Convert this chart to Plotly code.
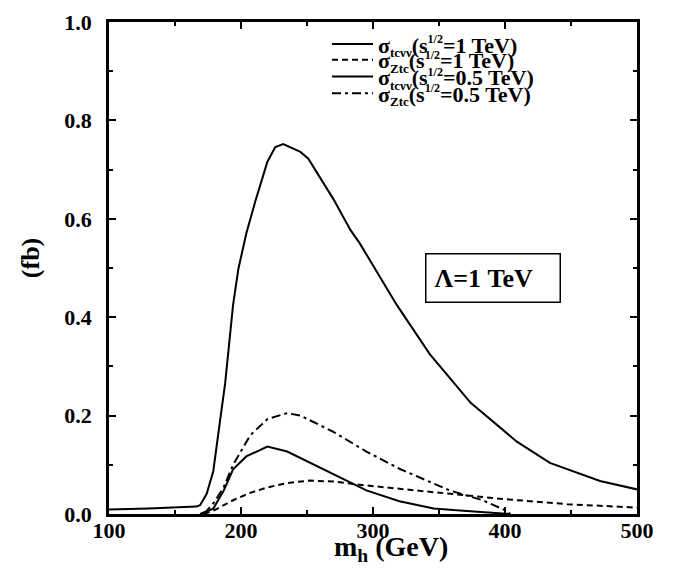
import plotly.graph_objects as go

# sigma_tcvv, sqrt(s)=1 TeV
mh_a = [100, 130, 166, 169, 174, 179, 184, 188, 194, 198, 204, 211, 220, 226, 232, 245, 251, 270, 283, 290, 318, 343, 374, 409, 434, 472, 500]
sig_a = [0.009, 0.011, 0.015, 0.018, 0.041, 0.087, 0.187, 0.266, 0.425, 0.498, 0.570, 0.637, 0.716, 0.746, 0.752, 0.736, 0.722, 0.640, 0.577, 0.550, 0.425, 0.325, 0.226, 0.147, 0.104, 0.067, 0.050]

# sigma_Ztc, sqrt(s)=1 TeV
mh_b = [172, 180, 194, 207, 220, 235, 252, 270, 295, 320, 358, 396, 447, 500]
sig_b = [0.0, 0.008, 0.028, 0.043, 0.054, 0.063, 0.068, 0.066, 0.058, 0.051, 0.041, 0.031, 0.020, 0.013]

# sigma_tcvv, sqrt(s)=0.5 TeV
mh_c = [169, 179, 187, 194, 204, 220, 235, 245, 270, 295, 320, 346, 371, 390, 404]
sig_c = [0.0, 0.011, 0.048, 0.091, 0.117, 0.137, 0.127, 0.114, 0.081, 0.048, 0.026, 0.011, 0.006, 0.002, 0.0]

# sigma_Ztc, sqrt(s)=0.5 TeV
mh_d = [172, 180, 187, 194, 207, 220, 235, 245, 270, 295, 320, 346, 358, 383, 400, 404]
sig_d = [0.0, 0.025, 0.055, 0.10, 0.160, 0.193, 0.205, 0.200, 0.167, 0.127, 0.092, 0.061, 0.048, 0.028, 0.008, 0.0]

x_ticks = [100, 200, 300, 400, 500]
x_tick_text = ["100", "200", "300", "400", "500"]
y_ticks = [0.0, 0.2, 0.4, 0.6, 0.8, 1.0]
y_tick_text = ["0.0", "0.2", "0.4", "0.6", "0.8", "1.0"]

SUB = '<sub><span style="font-size:13px">%s</span></sub>'
SUP = '<sup><span style="font-size:12px">%s</span></sup>'
names = [
    "<b>σ" + SUB % "tcνν" + "(s" + SUP % "1/2" + "=1 TeV)</b>",
    "<b>σ" + SUB % "Ztc" + "(s" + SUP % "1/2" + "=1 TeV)</b>",
    "<b>σ" + SUB % "tcνν" + "(s" + SUP % "1/2" + "=0.5 TeV)</b>",
    "<b>σ" + SUB % "Ztc" + "(s" + SUP % "1/2" + "=0.5 TeV)</b>",
]
dashes = ["solid", "6px,4px", "solid", "9px,4px,3px,4px"]
legend_ids = ["legend", "legend2", "legend3", "legend4"]
legend_rows = [0.955, 0.923, 0.889, 0.855]

FONT = "Liberation Serif, Times New Roman, serif"
fig = go.Figure()
for x, y, n, d, lg in zip([mh_a, mh_b, mh_c, mh_d], [sig_a, sig_b, sig_c, sig_d], names, dashes, legend_ids):
    fig.add_trace(go.Scatter(x=x, y=y, mode="lines", name=n, legend=lg,
                             line=dict(color="black", width=2, dash=d)))

axis_common = dict(showline=True, linecolor="black", linewidth=2.5, mirror="ticks",
                   ticks="inside", ticklen=7, tickwidth=2, tickcolor="black",
                   showgrid=False, zeroline=False,
                   tickfont=dict(family=FONT, size=22, color="black"))

fig.update_xaxes(range=[100, 500], tickmode="array", tickvals=x_ticks,
                 ticktext=["<b>%s</b>" % t for t in x_tick_text], ticklabelstandoff=-5,
                 minor=dict(ticks="inside", dtick=50, tick0=100, ticklen=4, tickcolor="black", tickwidth=1.5),
                 **axis_common)
fig.update_yaxes(range=[0, 1.0], tickmode="array", tickvals=y_ticks,
                 ticktext=["<b>%s</b>" % t for t in y_tick_text], ticklabelstandoff=10,
                 minor=dict(ticks="inside", dtick=0.1, tick0=0, ticklen=4, tickcolor="black", tickwidth=1.5),
                 **axis_common)

# axis titles
fig.add_annotation(x=0.534, y=-0.0694, xref="paper", yref="paper", text="<b>m<sub>h</sub> (GeV)</b>",
                   showarrow=False, xanchor="center", yanchor="middle",
                   font=dict(family=FONT, size=28, color="black"))
fig.add_annotation(x=-0.1496, y=0.52, xref="paper", yref="paper", text="<b>(fb)</b>",
                   showarrow=False, xanchor="center", yanchor="middle", textangle=-90,
                   font=dict(family=FONT, size=26, color="black"))

fig.add_annotation(x=391, y=0.479, xref="x", yref="y", text="<b>Λ=1 TeV</b>",
                   showarrow=False, font=dict(family=FONT, size=26, color="black"),
                   width=117, height=31, align="left",
                   bordercolor="black", borderwidth=1.5, borderpad=8, bgcolor="white")

layout_legends = {}
for lg, yy in zip(legend_ids, legend_rows):
    layout_legends[lg] = dict(x=0.4129, y=yy, xanchor="left", yanchor="middle",
                              bgcolor="rgba(0,0,0,0)", borderwidth=0,
                              font=dict(family=FONT, size=22, color="black"),
                              itemwidth=41)

fig.update_layout(
    width=688, height=572,
    margin=dict(l=109, r=51, t=10, b=58),
    plot_bgcolor="white", paper_bgcolor="white",
    showlegend=True,
    **layout_legends,
)

fig.write_html("out.html")
